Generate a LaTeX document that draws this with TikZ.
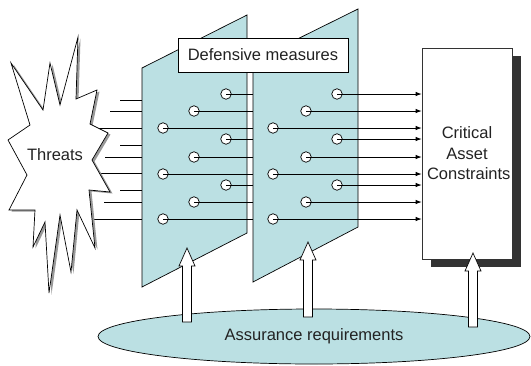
\documentclass[tikz,border=0pt]{standalone}
\usepackage{fontspec}
\setmainfont{Liberation Sans}
\usetikzlibrary{arrows.meta,calc,shapes.geometric,shadows}

\definecolor{panelfill}{RGB}{187,224,227}
\definecolor{shadowgray}{RGB}{51,51,51}
\definecolor{inkgray}{RGB}{34,34,34}

% hollow upward block arrow from a base coordinate to a tip coordinate
\newcommand\hollowup[2]{%
  \path let \p1=(#1), \p2=(#2) in
    [draw=black, fill=white, line width=0.7pt]
    (\x1-4.5pt,\y1) -- (\x1-4.5pt,\y2-18pt) -- (\x1-8pt,\y2-18pt) -- (\x2,\y2)
    -- (\x1+8pt,\y2-18pt) -- (\x1+4.5pt,\y2-18pt) -- (\x1+4.5pt,\y1) -- cycle;}

\begin{document}
\begin{tikzpicture}[x=1pt,y=-1pt,line width=0.7pt,
  every node/.style={font=\fontsize{16.5}{20.5}\selectfont, text=inkgray},
  panel/.style={draw=black, fill=panelfill, line width=0.7pt},
  port/.style={circle, draw=black, fill=white, minimum size=10.5pt, inner sep=0pt, line width=0.7pt},
  wire/.style={draw=black, line width=0.8pt},
  feed/.style={draw=black, line width=0.8pt, -{Latex[length=6pt,width=4.5pt]}},
  labelbox/.style={draw=black, fill=white, inner sep=0pt, line width=0.7pt}]

\useasboundingbox (0,0) rectangle (531,365);

% panel edges used as wire end points
\coordinate (p1l) at (142,0);
\coordinate (p2l) at (253,0);

% incoming threat wires
\foreach \sx/\sy [count=\i] in {120/100, 110/111, 90/128, 120/145, 105/157, 90/173, 120/190, 104/202, 88/219}
  \coordinate (in\i) at (\sx,\sy);
\foreach \i in {1,...,9}
  \draw[wire] (in\i) -- (in\i -| p1l);

% threats starburst with its shadow
\def\burst{(11,63) -- (43,110) -- (50,63) -- (60,105) -- (78,37) -- (76,99) -- (97,90) -- (90,124)
  -- (108,133) -- (92,160) -- (110,192) -- (89,190) -- (95,248) -- (77,210) -- (71,272) -- (60,215)
  -- (49,293) -- (45,222) -- (33,247) -- (35,210) -- (9,210) -- (27,175) -- (8,140) -- (30,125) -- cycle}
\fill[gray!80, shift={(2.5,1.5)}] \burst;
\draw[fill=white, line width=0.7pt] \burst;
\node (threats) at (55,155) {Threats};

% first defensive panel
\path[panel] (142,68) -- (247,15) -- (247,233) -- (142,287) -- cycle;
\foreach \px/\py [count=\i] in {226/94, 194/111, 163/128, 226/139, 194/157, 163/174, 226/185, 194/202, 163/219}
  \node[port] (a\i) at (\px,\py) {};
\foreach \i in {1,...,9}
  \draw[wire] (a\i.center) -- (a\i.center -| p2l);

% second defensive panel
\path[panel] (253,61) -- (358,9) -- (358,227) -- (253,282) -- cycle;
\foreach \px/\py [count=\i] in {337/94, 306/111, 273/128, 337/139, 306/157, 273/174, 337/185, 306/202, 273/219}
  \node[port] (b\i) at (\px,\py) {};

% critical assets
\node[draw=black!80, fill=white, minimum width=90pt, minimum height=211pt, align=center, line width=0.7pt,
      drop shadow={shadow xshift=9pt, shadow yshift=-8pt, fill=shadowgray, opacity=1}]
  (cac) at (467,153.5) {\raisebox{-2pt}{\parbox{80pt}{\centering Critical\\Asset\\Constraints}}};

\foreach \i in {1,...,9}
  \draw[feed] (b\i.center) -- (b\i.center -| cac.west);

% panel caption
\node[labelbox, minimum width=170pt, minimum height=34pt] (caption) at (263,55) {Defensive measures};

% assurance requirements
\node[ellipse, draw=black, fill=panelfill, minimum width=432pt, minimum height=55pt, inner sep=0pt, line width=0.7pt]
  (assur) at (314,336.5) {\raisebox{-6pt}{Assurance requirements}};

\coordinate (u1) at (187,322); \coordinate (t1) at (187,248);
\coordinate (u2) at (308,317); \coordinate (t2) at (308,242);
\coordinate (u3) at (473,327); \coordinate (t3) at (473,253);
\hollowup{u1}{t1}
\hollowup{u2}{t2}
\hollowup{u3}{t3}
\end{tikzpicture}
\end{document}
